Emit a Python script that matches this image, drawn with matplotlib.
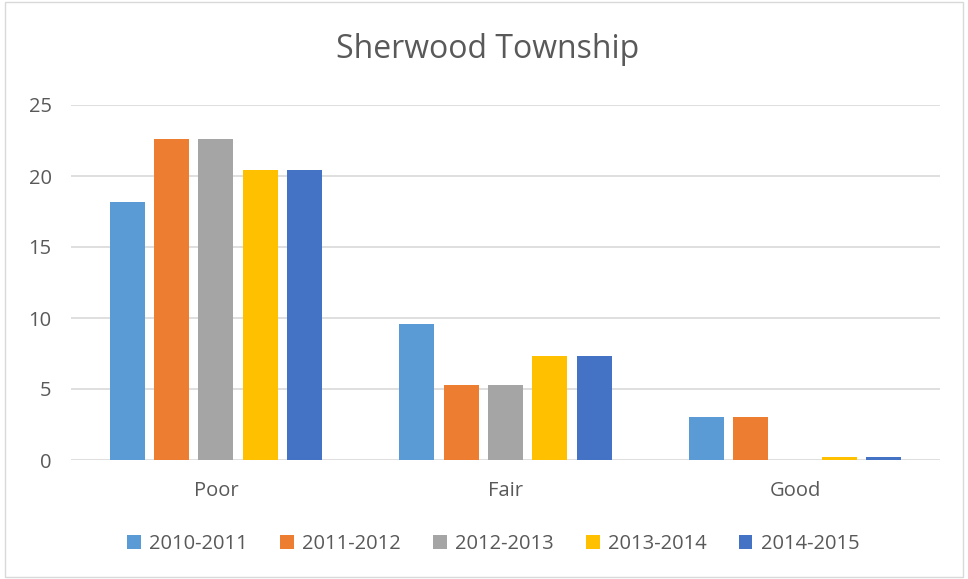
import matplotlib.pyplot as plt
import numpy as np
from matplotlib.patches import Rectangle

categories = ["Poor", "Fair", "Good"]
seasons = ["2010-2011", "2011-2012", "2012-2013", "2013-2014", "2014-2015"]
values = {
    "2010-2011": [18.2, 9.6, 3.0],
    "2011-2012": [22.6, 5.3, 3.0],
    "2012-2013": [22.6, 5.3, 0.0],
    "2013-2014": [20.4, 7.3, 0.2],
    "2014-2015": [20.4, 7.3, 0.2],
}
colors = ["#5B9BD5", "#ED7D31", "#A5A5A5", "#FFC000", "#4472C4"]
yticks = [0, 5, 10, 15, 20, 25]

plt.rcParams["font.family"] = ["Open Sans", "DejaVu Sans"]

W, H = 968, 579
fig = plt.figure(figsize=(W / 100, H / 100), dpi=100)

# outer chart border
fig.patches.append(Rectangle((5 / W, 2 / H), 958 / W, 575 / H, transform=fig.transFigure,
                             fill=False, edgecolor="#D9D9D9", linewidth=1))

ax = fig.add_axes([71 / W, 1 - 460 / H, (940 - 71) / W, (460 - 105) / H])
x = np.arange(len(categories))
step = 0.153
width = 0.121
for i, (s, c) in enumerate(zip(seasons, colors)):
    ax.bar(x + (i - 2) * step, values[s], width=width, color=c, label=s, zorder=3)

ax.set_xlim(-0.5, len(categories) - 0.5)
ax.set_ylim(0, 25)
ax.set_yticks(yticks)
ax.set_xticks(x)
ax.set_xticklabels(categories)
ax.grid(axis="y", color="#D9D9D9", linewidth=1.2, zorder=0)
ax.set_axisbelow(True)
for sp in ax.spines.values():
    sp.set_visible(False)
ax.tick_params(axis="both", length=0, labelsize=14.5, colors="#595959")
ax.tick_params(axis="y", pad=14)
ax.tick_params(axis="x", pad=15)

fig.text(488 / W, 1 - 50 / H, "Sherwood Township", ha="center", va="center",
         fontsize=23, color="#595959")

fig.legend(loc="center", bbox_to_anchor=(493 / W, 1 - 544 / H), ncol=5, frameon=False,
           fontsize=14.5, labelcolor="#595959", handlelength=0.69, handleheight=0.69,
           handletextpad=0.4, columnspacing=1.6)

fig.savefig("out.png", dpi=100)
